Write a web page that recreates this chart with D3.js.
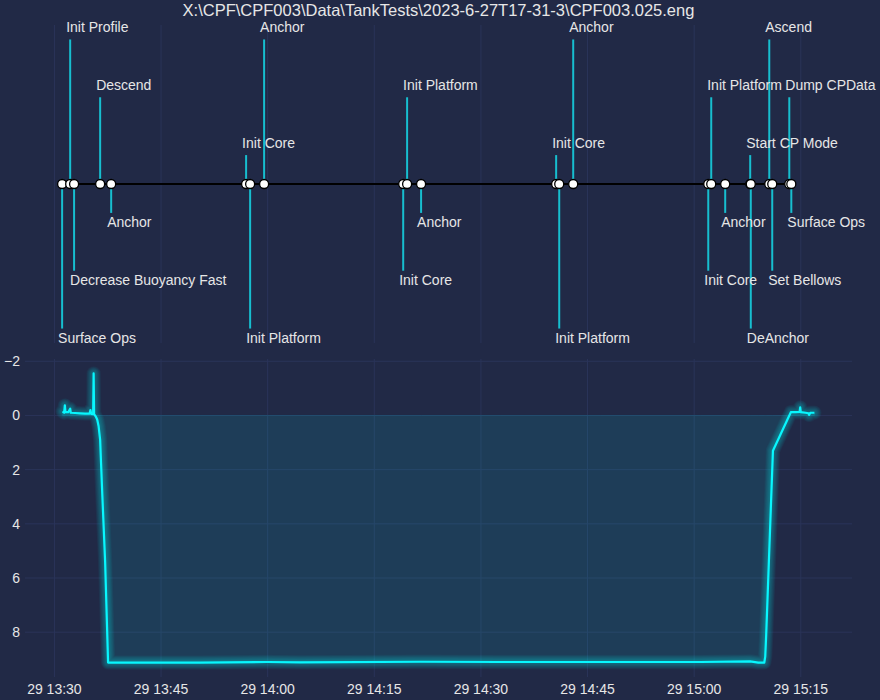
<!DOCTYPE html>
<html>
<head>
<meta charset="utf-8">
<script src="https://cdn.jsdelivr.net/npm/d3@7"></script>
<style>
  html, body { margin: 0; padding: 0; background: #212946; }
  svg { display: block; }
  text { font-family: "Liberation Sans", Arial, sans-serif; fill: #e6e6e6; }
</style>
</head>
<body>
<svg id="chart" width="880" height="700"></svg>
<script>
// ---------- DATA ----------
const titleText = "X:\\CPF\\CPF003\\Data\\TankTests\\2023-6-27T17-31-3\\CPF003.025.eng";
const dayStr = "2023-06-29";

const eventNames = ["Surface Ops","Init Profile","Decrease Buoyancy Fast","Descend","Anchor",
  "Init Core","Init Platform","Anchor","Init Core","Init Platform","Anchor",
  "Init Core","Init Platform","Anchor","Init Core","Init Platform","Anchor",
  "Start CP Mode","DeAnchor","Ascend","Set Bellows","Dump CPData","Surface Ops"];
const eventTimes = ["13:31:05","13:32:13","13:32:46","13:36:26","13:37:59",
  "13:56:58","13:57:32","13:59:30","14:19:04","14:19:37","14:21:35",
  "14:40:35","14:41:01","14:42:59","15:01:59","15:02:24","15:04:22",
  "15:07:53","15:07:58","15:10:34","15:10:59","15:13:23","15:13:40"];
const eventLevels = [-5,5,-3,3,-1,1,-5,5,-3,3,-1,1,-5,5,-3,3,-1,1,-5,5,-3,3,-1];

const depthTimes = ["13:31:09","13:31:22","13:31:28","13:31:33","13:31:56","13:32:13","13:32:18",
  "13:32:55","13:33:37","13:34:19","13:34:57","13:35:04","13:35:10","13:35:27","13:35:31",
  "13:35:35","13:35:48","13:36:01","13:36:13","13:36:26","13:36:34","13:36:43","13:37:08",
  "13:37:33","13:42:04","13:50:30","13:59:56","14:04:34","14:21:35","14:32:43","14:46:47",
  "15:00:54","15:07:53","15:09:01","15:09:52","15:10:00","15:10:08","15:11:05","15:13:36",
  "15:14:13","15:14:50","15:14:55","15:15:00","15:15:40","15:16:05","15:16:10","15:16:20","15:16:55"];
const depthValues = [-0.15,-0.1,-0.37,-0.12,-0.12,-0.25,-0.1,
  -0.09,-0.08,-0.07,-0.07,-0.2,-0.06,-0.05,-1.55,
  -0.05,0.03,0.15,0.4,0.9,1.8,2.8,5.4,
  9.12,9.12,9.12,9.1,9.11,9.09,9.1,9.1,
  9.1,9.08,9.12,9.12,8.9,8.1,1.3,-0.12,
  -0.12,-0.13,-0.3,-0.12,-0.1,-0.08,-0.02,-0.1,-0.1];

const yTicks = [-2, 0, 2, 4, 6, 8];

// ---------- SETUP ----------
const parse = d3.timeParse("%Y-%m-%d %H:%M:%S");
const events = eventNames.map((n, i) => ({ name: n, t: parse(dayStr + " " + eventTimes[i]), lvl: eventLevels[i] }));
const depth = depthTimes.map((t, i) => ({ t: parse(dayStr + " " + t), v: depthValues[i] }));

const svg = d3.select("#chart");
const left = 25, right = 852;

const tExt = d3.extent(depth, d => d.t);
const tPad = (tExt[1] - tExt[0]) * 0.05;
const x = d3.scaleTime()
  .domain([new Date(+tExt[0] - tPad), new Date(+tExt[1] + tPad)])
  .range([left, right]);

const vExt = d3.extent(depth, d => d.v);
const vPad = (vExt[1] - vExt[0]) * 0.05;
const yB = d3.scaleLinear().domain([vExt[0] - vPad, vExt[1] + vPad]).range([359, 677]);
const yT = d3.scaleLinear().domain([-5.5, 5.5]).range([343, 25]);

const xTicks = x.ticks(d3.timeMinute.every(15));
const fmt = d3.timeFormat("%d %H:%M");

const gridColor = "#2A3459";

svg.append("text").attr("x", (left + right) / 2).attr("y", 16)
  .attr("text-anchor", "middle").style("font-size", "16.5px").text(titleText);

// ---------- TOP TIMELINE ----------
const gTop = svg.append("g");
gTop.selectAll("line.vg").data(xTicks).join("line")
  .attr("x1", d => x(d)).attr("x2", d => x(d))
  .attr("y1", yT(5.5)).attr("y2", yT(-5.5))
  .attr("stroke", gridColor).attr("stroke-width", 1);

gTop.selectAll("line.stem").data(events).join("line")
  .attr("x1", d => x(d.t)).attr("x2", d => x(d.t))
  .attr("y1", yT(0)).attr("y2", d => yT(d.lvl))
  .attr("stroke", "#17becf").attr("stroke-width", 2);

gTop.append("line")
  .attr("x1", x(events[0].t)).attr("x2", x(events[events.length - 1].t))
  .attr("y1", yT(0)).attr("y2", yT(0))
  .attr("stroke", "#000").attr("stroke-width", 2);

gTop.selectAll("circle").data(events).join("circle")
  .attr("cx", d => x(d.t)).attr("cy", yT(0)).attr("r", 4.5)
  .attr("fill", "#fff").attr("stroke", "#000").attr("stroke-width", 1.3);

gTop.selectAll("text.lbl").data(events).join("text")
  .attr("x", d => x(d.t) - 4)
  .attr("y", d => d.lvl > 0 ? yT(d.lvl) - 7 : yT(d.lvl) + 14.5)
  .style("font-size", "14px")
  .text(d => d.name);

// ---------- BOTTOM DEPTH CHART ----------
const gBot = svg.append("g");
gBot.selectAll("line.hg").data(yTicks).join("line")
  .attr("x1", left).attr("x2", right)
  .attr("y1", d => yB(d)).attr("y2", d => yB(d))
  .attr("stroke", gridColor).attr("stroke-width", 1);
gBot.selectAll("line.vg").data(xTicks).join("line")
  .attr("x1", d => x(d)).attr("x2", d => x(d))
  .attr("y1", yB.range()[0]).attr("y2", yB.range()[1])
  .attr("stroke", gridColor).attr("stroke-width", 1);

const teal = "#08F7FE";
const area = d3.area().x(d => x(d.t)).y0(yB(0)).y1(d => yB(d.v));
gBot.append("path").datum(depth).attr("d", area)
  .attr("fill", teal).attr("fill-opacity", 0.1)
  .attr("stroke", teal).attr("stroke-opacity", 0.1).attr("stroke-width", 1);

const line = d3.line().x(d => x(d.t)).y(d => yB(d.v));
for (let i = 1; i <= 10; i++) {
  gBot.append("path").datum(depth).attr("d", line)
    .attr("fill", "none").attr("stroke", teal)
    .attr("stroke-width", 2.5 + 1.2 * i).attr("stroke-opacity", 0.035)
    .attr("stroke-linejoin", "round").attr("stroke-linecap", "round");
}
gBot.append("path").datum(depth).attr("d", line)
  .attr("fill", "none").attr("stroke", teal).attr("stroke-width", 2.2)
  .attr("stroke-linejoin", "round");

gBot.selectAll("text.yt").data(yTicks).join("text")
  .attr("x", 20).attr("y", d => yB(d)).attr("dy", "0.35em")
  .attr("text-anchor", "end").style("font-size", "14px")
  .text(d => d3.format("d")(d));

gBot.selectAll("text.xt").data(xTicks).join("text")
  .attr("x", d => x(d)).attr("y", 694)
  .attr("text-anchor", "middle").style("font-size", "14px")
  .text(d => fmt(d));
</script>
</body>
</html>
